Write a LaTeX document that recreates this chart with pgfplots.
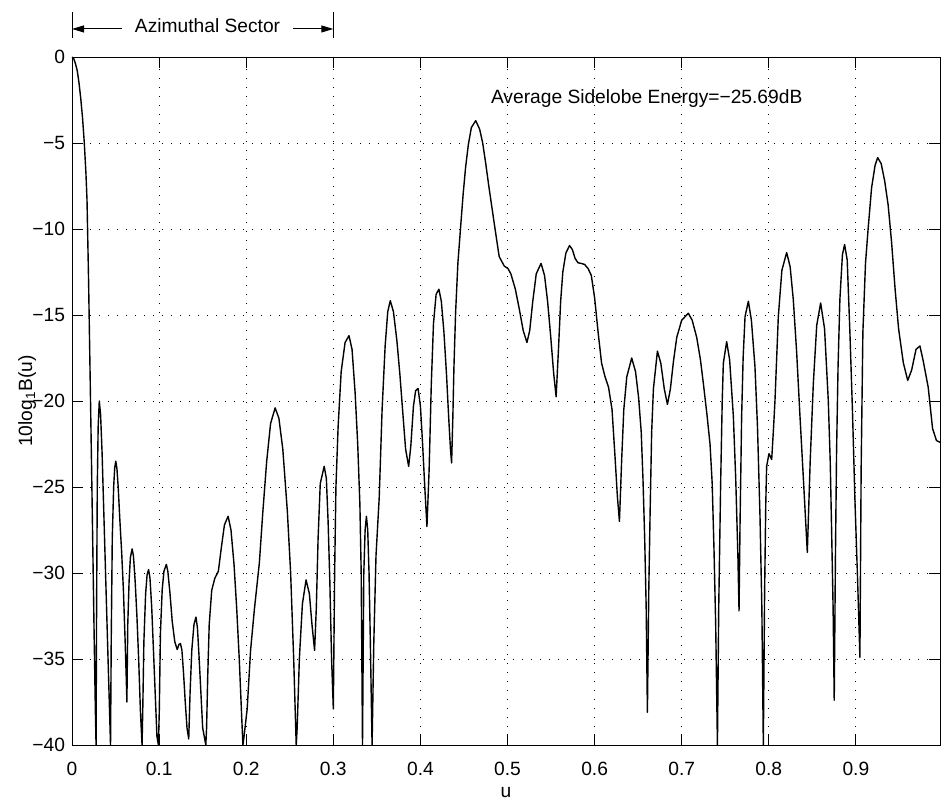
\documentclass[border=0pt]{standalone}
\usepackage{fontspec}
\setmainfont{Liberation Sans}
\usepackage{pgfplots}
\pgfplotsset{compat=1.18}
\usetikzlibrary{arrows.meta}

\newcommand{\lbl}{\fontsize{9.6}{11}\selectfont}

\begin{document}
\begin{tikzpicture}
\begin{axis}[
    scale only axis,
    width=434pt, height=344pt,
    xmin=0, xmax=0.9966,
    ymin=-40, ymax=0,
    xtick={0,0.1,0.2,0.3,0.4,0.5,0.6,0.7,0.8,0.9},
    xticklabels={0,0.1,0.2,0.3,0.4,0.5,0.6,0.7,0.8,0.9},
    ytick={-40,-35,-30,-25,-20,-15,-10,-5,0},
    yticklabels={−40,−35,−30,−25,−20,−15,−10,−5,0},
    xtick pos=both, ytick pos=both,
    tick align=inside,
    major tick length=5.5pt,
    every tick/.style={black, line width=0.5pt},
    axis line style={line width=0.5pt},
    grid=major,
    grid style={black, line width=0.5pt, dash pattern=on 0.5pt off 4pt},
    tick label style={font=\lbl},
    xticklabel style={anchor=center, yshift=-12pt},
    xlabel={u},
    xlabel style={at={(axis description cs:0.5,-0.0698)}, anchor=center, font=\lbl},
    ylabel={10log\textsubscript{1}B(u)},
    ylabel style={at={(axis description cs:-0.0518,0.5)}, anchor=center, font=\lbl},
    clip=false,
]
% page extent of the reference image
\path (axis cs:-0.0827,3.314) rectangle (axis cs:0.9977,-43.2);

\addplot[black, line width=0.7pt, line join=round] coordinates {
(0,0) (0.002,-0.1) (0.004,-0.4) (0.006,-0.8) (0.008,-1.5) (0.010,-2.4) (0.012,-3.5)
(0.0141,-5.0) (0.016,-6.8) (0.0172,-8.3) (0.019,-13) (0.0208,-18.6) (0.0225,-24)
(0.024,-29) (0.0255,-34) (0.0268,-38) (0.0276,-40)
(0.0282,-32) (0.0290,-25) (0.0300,-21.5) (0.0313,-20.0) (0.0328,-20.8) (0.0345,-23)
(0.0365,-26.5) (0.0385,-30) (0.0405,-33.5) (0.0425,-37) (0.0442,-40)
(0.0450,-34) (0.0462,-28) (0.0478,-25) (0.0490,-23.9) (0.0502,-23.5) (0.0515,-23.9)
(0.053,-25) (0.055,-27) (0.057,-28.8) (0.059,-31) (0.061,-34) (0.0622,-36) (0.0630,-37.5)
(0.0640,-33) (0.0655,-30.5) (0.0670,-29.1) (0.0690,-28.6) (0.0705,-29.0) (0.0725,-30.5)
(0.0745,-32.5) (0.0765,-35) (0.0785,-38) (0.0804,-40)
(0.0812,-38) (0.0825,-34) (0.0845,-31.2) (0.0862,-30.1) (0.0879,-29.8) (0.0895,-30.3)
(0.0915,-32) (0.0935,-34.5) (0.0955,-37) (0.0975,-39.5) (0.0992,-40)
(0.1002,-38) (0.1015,-33.5) (0.1035,-31) (0.1055,-29.9) (0.1083,-29.5) (0.110,-29.9)
(0.1125,-31.2) (0.115,-32.8) (0.118,-34.0) (0.1208,-34.45) (0.1228,-34.15) (0.1245,-34.1)
(0.1262,-34.5) (0.128,-35.8) (0.130,-37.5) (0.132,-39) (0.134,-39.65)
(0.1355,-37) (0.1375,-34.5) (0.140,-33) (0.1423,-32.56) (0.144,-33.2) (0.146,-35)
(0.148,-37) (0.150,-39) (0.1536,-40)
(0.1545,-39) (0.1558,-36) (0.1575,-33) (0.1604,-31.0) (0.164,-30.3) (0.168,-29.9)
(0.1715,-28.5) (0.175,-27.2) (0.1792,-26.7) (0.1825,-27.5) (0.186,-29.5) (0.189,-32)
(0.192,-35) (0.1945,-38) (0.1962,-40)
(0.1975,-39.5) (0.2011,-37.9) (0.205,-34.5) (0.2094,-32.1) (0.2151,-29.4) (0.219,-26.5)
(0.2235,-23.5) (0.228,-21.3) (0.2332,-20.4) (0.2375,-21.0) (0.2420,-22.8) (0.2472,-26.4)
(0.251,-30) (0.2545,-35) (0.2574,-40)
(0.2585,-39) (0.261,-35) (0.2645,-31.8) (0.2687,-30.4) (0.2725,-31.2) (0.2755,-33)
(0.2785,-34.5) (0.2805,-32) (0.2825,-28) (0.2850,-24.8) (0.2895,-23.8) (0.292,-24.5)
(0.294,-27) (0.296,-30.5) (0.298,-35) (0.300,-37.9)
(0.3015,-30) (0.303,-25) (0.3055,-21.5) (0.309,-18.3) (0.3135,-16.6) (0.318,-16.2)
(0.3215,-17.0) (0.325,-19.5) (0.328,-22.5) (0.3305,-26) (0.332,-30) (0.3335,-40)
(0.335,-30) (0.3365,-27.5) (0.338,-26.7) (0.3395,-27.5) (0.341,-30) (0.3425,-34)
(0.3445,-40) (0.3465,-34) (0.349,-29) (0.3527,-25.6) (0.356,-20.5) (0.3595,-16.8)
(0.3625,-14.8) (0.3654,-14.17) (0.369,-14.8) (0.373,-16.5) (0.3765,-18.5) (0.3795,-20.5)
(0.383,-22.8) (0.3865,-23.8) (0.389,-22.6) (0.392,-20.3) (0.3945,-19.4) (0.3973,-19.27)
(0.400,-20.3) (0.4025,-22.5) (0.405,-25) (0.4075,-27.3) (0.410,-24) (0.4125,-19)
(0.415,-15.5) (0.418,-13.8) (0.4212,-13.5) (0.424,-14.2) (0.427,-16) (0.430,-18.5)
(0.4325,-21) (0.4345,-22.8) (0.4358,-23.6) (0.4372,-21) (0.4385,-18) (0.4404,-14.85)
(0.443,-12) (0.4462,-9.85) (0.449,-8) (0.4519,-6.4) (0.455,-5.1) (0.4585,-4.1)
(0.4635,-3.7) (0.468,-4.2) (0.4715,-5.0) (0.475,-6.2) (0.4785,-7.5) (0.4808,-8.3)
(0.4854,-9.9) (0.4904,-11.6) (0.4962,-12.15) (0.5005,-12.3) (0.5038,-12.6) (0.509,-13.5)
(0.5135,-14.65) (0.518,-15.9) (0.5223,-16.6) (0.5255,-15.9) (0.529,-14.2) (0.533,-12.6)
(0.5385,-12.0) (0.5425,-12.7) (0.546,-14.2) (0.5495,-16.2) (0.5530,-18.4) (0.5558,-19.75)
(0.5585,-17) (0.561,-14.2) (0.5635,-12.5) (0.567,-11.4) (0.5712,-10.96) (0.5745,-11.2)
(0.5775,-11.7) (0.5808,-11.96) (0.5845,-12.0) (0.5885,-12.06) (0.5925,-12.3)
(0.5962,-12.7) (0.600,-14.0) (0.604,-16.0) (0.608,-17.8) (0.612,-18.6) (0.616,-19.2)
(0.620,-20.5) (0.6235,-23.3) (0.6262,-25.6) (0.6285,-27.0) (0.631,-23.5) (0.6335,-20.5)
(0.6369,-18.6) (0.6426,-17.5) (0.647,-18.3) (0.6505,-19.8) (0.6535,-21.8) (0.6555,-24.5)
(0.6575,-28) (0.6592,-32) (0.6606,-38.1) (0.6622,-31) (0.6637,-26.5) (0.6655,-21.8)
(0.6675,-19.3) (0.6721,-17.1) (0.676,-17.8) (0.680,-19.3) (0.6836,-20.2) (0.687,-19.3)
(0.6905,-17.7) (0.6943,-16.3) (0.700,-15.3) (0.7076,-14.9) (0.712,-15.3) (0.7172,-16.3)
(0.7215,-17.6) (0.7249,-19.0) (0.729,-20.8) (0.7325,-22.5) (0.735,-24.8) (0.7371,-28.7)
(0.739,-33) (0.741,-40) (0.7425,-32) (0.7447,-24.8) (0.7465,-20) (0.7478,-17.8)
(0.7516,-16.55) (0.755,-17.6) (0.7593,-20.9) (0.762,-24.5) (0.7645,-29) (0.7658,-32.2)
(0.767,-27) (0.7688,-20.9) (0.7705,-17.5) (0.7727,-15.1) (0.7765,-14.2) (0.780,-15.3)
(0.7841,-18.0) (0.787,-21.5) (0.7899,-26.75) (0.792,-32) (0.7937,-40) (0.7952,-31)
(0.7965,-26) (0.7975,-23.8) (0.8002,-23.06) (0.8033,-23.4) (0.8055,-21.5) (0.8071,-19.95)
(0.8109,-15.1) (0.815,-12.4) (0.8205,-11.37) (0.8245,-12.2) (0.8281,-14.1) (0.832,-17.2)
(0.8358,-20.9) (0.840,-24.8) (0.8442,-28.8) (0.8475,-23.5) (0.8511,-19.0) (0.855,-15.6)
(0.8595,-14.3) (0.864,-15.8) (0.8683,-20.0) (0.8705,-23.5) (0.8721,-27.5) (0.8738,-32)
(0.8751,-37.4) (0.8765,-29) (0.8778,-22.9) (0.8795,-18) (0.8816,-14.1) (0.8845,-11.5)
(0.8870,-10.9) (0.890,-11.8) (0.8931,-16.0) (0.896,-20.5) (0.8989,-25.8) (0.902,-30.5)
(0.9046,-34.9) (0.906,-24) (0.908,-16) (0.911,-12) (0.914,-10) (0.918,-7.6) (0.922,-6.3)
(0.925,-5.85) (0.929,-6.2) (0.933,-7.2) (0.937,-8.6) (0.941,-10.8) (0.945,-13.5)
(0.949,-15.8) (0.9545,-17.8) (0.9595,-18.8) (0.964,-18.2) (0.969,-17.0) (0.9735,-16.8)
(0.977,-17.6) (0.983,-19.2) (0.988,-21.6) (0.9925,-22.3) (0.9966,-22.4)
};

% azimuthal sector marker
\draw[line width=0.5pt] (axis cs:0,1.10) -- (axis cs:0,2.62);
\draw[line width=0.5pt] (axis cs:0.3,1.10) -- (axis cs:0.3,2.62);
\draw[line width=0.5pt, -{Triangle[length=6pt,width=3.5pt]}] (axis cs:0.0574,1.63) -- (axis cs:0,1.63);
\draw[line width=0.5pt, -{Triangle[length=6pt,width=3.5pt]}] (axis cs:0.2537,1.63) -- (axis cs:0.3,1.63);
\node[anchor=base, font=\lbl, inner sep=0pt] at (axis cs:0.1556,1.40) {Azimuthal Sector};
\node[anchor=base east, font=\lbl, inner sep=0pt] at (axis cs:0.839,-2.7) {Average Sidelobe Energy=−25.69dB};
\end{axis}
\end{tikzpicture}
\end{document}
